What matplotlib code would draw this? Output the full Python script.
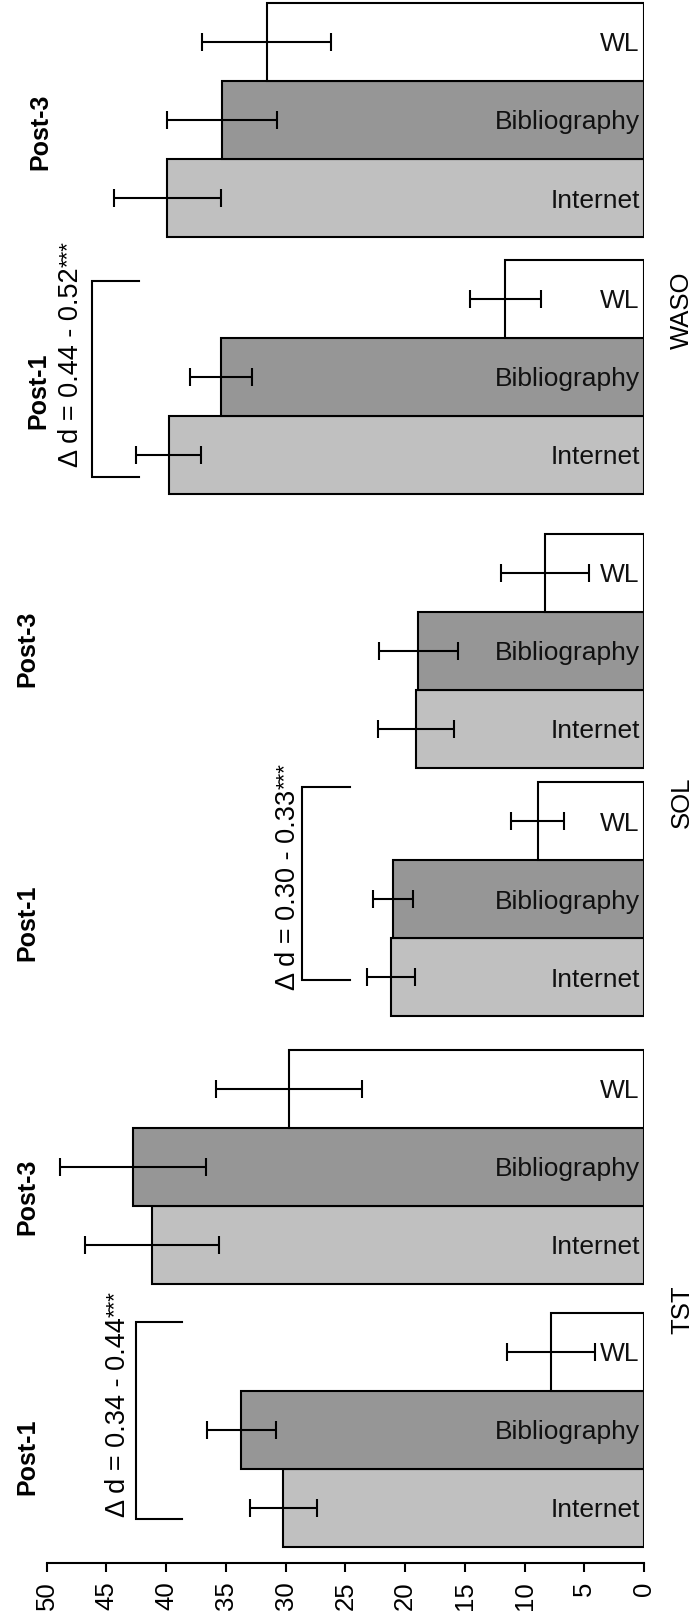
import matplotlib
matplotlib.use("Agg")
import matplotlib.pyplot as plt
import numpy as np

plt.rcParams['font.family'] = ['Liberation Sans', 'DejaVu Sans']

# groups, listed from the bottom of the page upwards
measures = ["TST", "SOL", "WASO"]
time_points = ["Post-1", "Post-3", "Post-1", "Post-3", "Post-1", "Post-3"]
conditions = ["Internet", "Bibliography", "WL"]
bar_colors = ["#c0c0c0", "#969696", "#ffffff"]

# mean change per group (Internet, Bibliography, WL)
means = [
    [30.2, 33.7, 7.8],   # TST Post-1
    [41.2, 42.8, 29.7],  # TST Post-3
    [21.2, 21.0, 8.9],   # SOL Post-1
    [19.1, 18.9, 8.3],   # SOL Post-3
    [39.8, 35.4, 11.6],  # WASO Post-1
    [39.9, 35.3, 31.6],  # WASO Post-3
]
errors = [
    [2.8, 2.9, 3.7],
    [5.6, 6.1, 6.1],
    [2.0, 1.7, 2.2],
    [3.2, 3.3, 3.7],
    [2.7, 2.6, 3.0],
    [4.5, 4.6, 5.4],
]
effect_labels = ["Δ d = 0.34 - 0.44", "Δ d = 0.30 - 0.33", "Δ d = 0.44 - 0.52"]
effect_stars = ["***", "***", "***"]

# layout (bar heights = 1 unit)
group_base = [0, 3.37, 6.80, 9.99, 13.50, 16.79]
post_x = [51.6, 51.6, 51.6, 51.6, 50.7, 50.5]
post_dy = [1.15, 1.12, 1.20, 1.52, 1.32, 1.35]
measure_y = [3.04, 9.55, 15.85]
# bracket: vertical x, end x, bottom/top relative to the Post-1 group
brackets = [(42.5, 38.7, 0.36, 2.88), (28.6, 24.6, 0.47, 2.94), (46.2, 42.3, 0.22, 2.73)]
effect_x = [44.0, 29.8, 48.0]
effect_dy = [0.38, 0.34, 0.34]

fig = plt.figure(figsize=(6.97, 16.23), dpi=100)
ax = fig.add_axes([0.067, 0.037, 0.857, 0.963])

for g, base in enumerate(group_base):
    y = base + np.arange(3) + 0.5
    ax.barh(y, means[g], height=1.0, color=bar_colors, edgecolor="black",
            linewidth=1.5, zorder=2)
    ax.errorbar(means[g], y, xerr=errors[g], fmt="none", ecolor="black",
                elinewidth=1.5, capsize=6.5, capthick=1.5, zorder=3)
    for yi, name in zip(y, conditions):
        ax.text(0.35, yi - 0.12, name, ha="right", va="baseline",
                fontsize=19, color="#111111", zorder=4)
    ax.text(post_x[g], base + post_dy[g], time_points[g], rotation=90,
            ha="center", va="center", fontsize=18, fontweight="bold",
            clip_on=False)

for k in range(3):
    base = group_base[2 * k]
    xv, xe, y0, y1 = brackets[k]
    ax.plot([xe, xv, xv, xe], [base + y0, base + y0, base + y1, base + y1],
            color="black", lw=1.5, clip_on=False, solid_joinstyle="miter")
    txt = ax.text(effect_x[k], base + effect_dy[k], effect_labels[k],
                  rotation=90, ha="center", va="bottom", fontsize=19.5,
                  clip_on=False)
    ax.annotate(effect_stars[k], xy=(0, 1), xycoords=txt, xytext=(0, 1),
                textcoords="offset pixels", rotation=90, ha="left",
                va="bottom", fontsize=16, annotation_clip=False)
    ax.text(-3.2, measure_y[k], measures[k], rotation=90, ha="center",
            va="center", fontsize=18.5, clip_on=False)

ax.set_xlim(50, 0)
ax.set_ylim(-0.205, 19.83)
ax.set_xticks(np.arange(0, 51, 5))
ax.set_yticks([])
for side in ["left", "right", "top"]:
    ax.spines[side].set_visible(False)
ax.spines["bottom"].set_linewidth(1.5)
ax.tick_params(axis="x", length=6.5, width=1.5, pad=7, labelsize=18.5,
               labelrotation=90)

fig.savefig("out.png", dpi=100)
